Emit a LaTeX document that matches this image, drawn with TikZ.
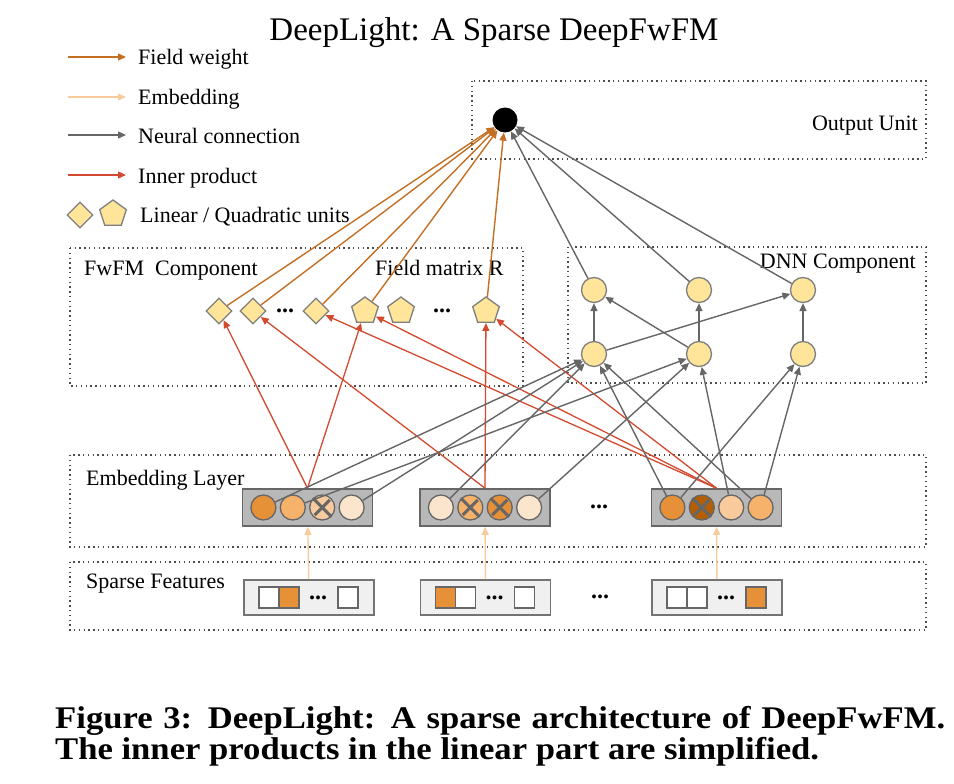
\documentclass[tikz,border=0pt]{standalone}
\usepackage{fontspec}
\setmainfont{Liberation Serif}
\newfontfamily\capfont{Liberation Serif}[FakeStretch=1.1]
\usepackage{xcolor}
\usepackage{tikz}
\usetikzlibrary{shapes.geometric,arrows.meta}

\definecolor{fwcol}{RGB}{196,112,36}
\definecolor{embcol}{HTML}{F9CB9C}
\definecolor{nncol}{HTML}{666666}
\definecolor{ipcol}{HTML}{D24B30}
\definecolor{unitfill}{HTML}{FFE599}
\definecolor{unitline}{HTML}{7F7F7F}
\definecolor{cA}{HTML}{E69138}
\definecolor{cB}{HTML}{F6B26B}
\definecolor{cC}{HTML}{F9CB9C}
\definecolor{cD}{HTML}{FCE5CD}
\definecolor{cE}{HTML}{B45F06}

\begin{document}
\begin{tikzpicture}[x=1pt,y=-1pt,
  lbl/.style={font=\fontsize{22}{26}\selectfont,inner sep=0pt,text height=16pt,text depth=0pt},
  region/.style={draw=black!70,line width=1.4pt,dash pattern=on 1.4pt off 3.4pt},
  tip/.style={-{Triangle[length=8pt,width=7pt]}},
  fw/.style={tip,draw=fwcol,fill=fwcol,line width=1.4pt},
  emb/.style={tip,draw=embcol,fill=embcol,line width=1.4pt},
  nn/.style={tip,draw=nncol,fill=nncol,line width=1.4pt},
  ip/.style={tip,draw=ipcol,fill=ipcol,line width=1.3pt},
  lin/.style={diamond,draw=unitline,fill=unitfill,line width=1.3pt,minimum width=26pt,minimum height=26pt,inner sep=0pt},
  quad/.style={regular polygon,regular polygon sides=5,draw=unitline,fill=unitfill,line width=1.3pt,minimum size=28pt,inner sep=0pt},
  hid/.style={circle,draw=unitline,fill=unitfill,line width=1.3pt,minimum size=25pt,inner sep=0pt},
  outn/.style={circle,fill=black,minimum size=25pt,inner sep=0pt},
  embbar/.style={draw=nncol,fill=black!28,line width=1.6pt,minimum width=130pt,minimum height=37pt,inner sep=0pt},
  spbar/.style={draw=black!55,fill=black!6,line width=1.6pt,minimum width=130pt,minimum height=35pt,inner sep=0pt},
  cell/.style={circle,draw=nncol,line width=1.3pt,minimum size=25pt,inner sep=0pt},
  xmark/.style={draw=nncol,line width=3pt,shorten <=2.5pt,shorten >=2.5pt},
  bit/.style={draw=black!60,fill=white,line width=1.3pt,minimum width=20pt,minimum height=21pt,inner sep=0pt},
  dots/.style={inner sep=0pt,font=\bfseries\fontsize{24}{24}\selectfont}]
\useasboundingbox (0,0) rectangle (954,784);

\node[font=\fontsize{33}{38}\selectfont,anchor=base] (title) at (494,41) {DeepLight: A Sparse DeepFwFM};

\foreach \s/\t/\y [count=\i] in {fw/Field weight/57,emb/Embedding/97,nn/Neural connection/135,ip/Inner product/175}{
  \coordinate (leg\i) at (68,\y);
  \node[lbl,anchor=west] (legt\i) at (138,\y) {\t};
  \draw[\s] (leg\i) -- ([xshift=-12pt]legt\i.west);
}
\node[lin] (legd) at (80,215) {};
\node[quad] (legp) at (113,214) {};
\node[lbl,anchor=west] (legt5) at (140,214) {Linear / Quadratic units};

\draw[region] (472,81) rectangle (926,159);
\draw[region] (70,248) rectangle (523,386);
\draw[region] (568,247) rectangle (926,383);
\draw[region] (70,455) rectangle (926,547);
\draw[region] (70,562) rectangle (926,630);
\node[lbl,anchor=east] (outlbl) at (918,123) {Output Unit};
\node[lbl,anchor=west] (fwfmlbl) at (84,267) {FwFM\ \ Component};
\node[lbl,anchor=west] (rlbl) at (375,267) {Field matrix R};
\node[lbl,anchor=east] (dnnlbl) at (916,260) {DNN Component};
\node[lbl,anchor=west] (emblbl) at (86,477) {Embedding Layer};
\node[lbl,anchor=west] (splbl) at (86,580) {Sparse Features};

\node[outn] (out) at (505,120) {};

\node[lin] (d1) at (219,311) {};
\node[lin] (d2) at (253,311) {};
\node[dots] (dd) at (285,311) {...};
\node[lin] (d3) at (316,311) {};
\node[quad] (p1) at (365,311) {};
\node[quad] (p2) at (401,311) {};
\node[dots] (pd) at (442,311) {...};
\node[quad] (p3) at (486,311) {};

\foreach \x [count=\i] in {594,699,803}{
  \node[hid] (t\i) at (\x,290) {};
  \node[hid] (b\i) at (\x,354) {};
}

\node[embbar] (e1) at (307.5,507.5) {};
\node[embbar] (e2) at (485,507.5) {};
\node[embbar] (e3) at (716.5,507.5) {};
\node[dots] (ed) at (599,507) {...};
\foreach \c [count=\i] in {cA,cB,cC,cD}{\node[cell,fill=\c] (e1c\i) at ([xshift=\i*29.4pt-73.5pt]e1.center) {};}
\foreach \c [count=\i] in {cD,cB,cA,cD}{\node[cell,fill=\c] (e2c\i) at ([xshift=\i*29.4pt-73.5pt]e2.center) {};}
\foreach \c [count=\i] in {cA,cE,cC,cB}{\node[cell,fill=\c] (e3c\i) at ([xshift=\i*29.4pt-73.5pt]e3.center) {};}
\foreach \n in {e1c3,e2c2,e2c3,e3c2}{\draw[xmark] (\n.north west) -- (\n.south east) (\n.north east) -- (\n.south west);}

\node[spbar] (s1) at (309,597.5) {};
\node[spbar] (s2) at (485.5,597.5) {};
\node[spbar] (s3) at (717,597.5) {};
\node[dots] (sd) at (600,597) {...};
\foreach \b/\f/\g/\h in {1/white/cA/white,2/cA/white/white,3/white/white/cA}{
  \node[bit,fill=\f] (s\b q1) at ([xshift=-40pt]s\b.center) {};
  \node[bit,fill=\g] (s\b q2) at ([xshift=-20pt]s\b.center) {};
  \node[dots] (s\b q3) at ([xshift=9pt]s\b.center) {...};
  \node[bit,fill=\h] (s\b q4) at ([xshift=39pt]s\b.center) {};
}

\foreach \i in {1,2,3}{\draw[emb] (s\i) -- (e\i);}

\draw[ip] (e1.north) -- (d1);
\draw[ip] (e1.north) -- (p1);
\draw[ip] (e2.north) -- (d2);
\draw[ip] (e2.north) -- (p3);
\draw[ip] (e3.north) -- (d3);
\draw[ip] (e3.north) -- (p1);
\draw[ip] (e3.north) -- (p3);

\foreach \u in {d1,d2,d3,p1,p3}{\draw[fw] (\u) -- (out);}

\draw[nn] (e1c1) -- (b1);
\draw[nn] (e1c2) -- (b2);
\draw[nn] (e1c4) -- (b1);
\draw[nn] (e2c1) -- (b1);
\draw[nn] (e2c4) -- (b2);
\draw[nn] (e3c1) -- (b1);
\draw[nn] (e3c1) -- (b3);
\draw[nn] (e3c3) -- (b2);
\draw[nn] (e3c4) -- (b1);
\draw[nn] (e3c4) -- (b3);
\draw[nn] (b1) -- (t1);
\draw[nn] (b1) -- (t3);
\draw[nn] (b2) -- (t1);
\draw[nn] (b2) -- (t2);
\draw[nn] (b3) -- (t3);
\foreach \i in {1,2,3}{\draw[nn] (t\i) -- (out);}

\node[font=\capfont\bfseries\fontsize{31.5}{31}\selectfont,anchor=base west,inner sep=0pt] (cap1) at (55,728) {\makebox[890pt][s]{Figure 3: DeepLight: A sparse architecture of DeepFwFM.}};
\node[font=\capfont\bfseries\fontsize{31.5}{31}\selectfont,anchor=base west,inner sep=0pt] (cap2) at (55,759) {The inner products in the linear part are simplified.};
\end{tikzpicture}
\end{document}
